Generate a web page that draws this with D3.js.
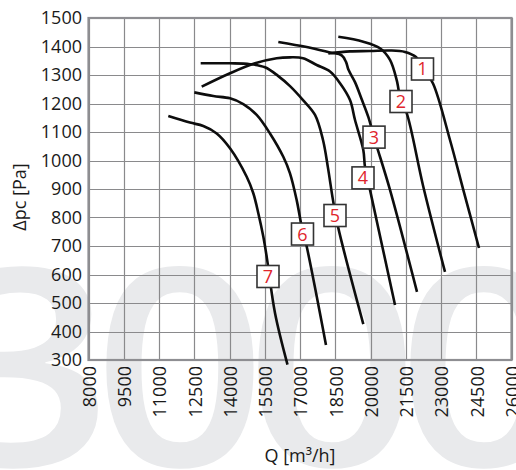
<!DOCTYPE html>
<html><head><meta charset="utf-8">
<script src="https://cdn.jsdelivr.net/npm/d3@7"></script>
<style>body{margin:0;background:#fff}svg{display:block}text{font-family:"Open Sans",sans-serif}</style>
</head><body><svg id="c" width="516" height="470"></svg>
<script>
const xTicks = [8000,9500,11000,12500,14000,15500,17000,18500,20000,21500,23000,24500,26000];
const yTicks = [300,400,500,600,700,800,900,1000,1100,1200,1300,1400,1500];
const watermarkText = ["3","0","0","0"];
const curveNames = ["1","2","3","4","5","6","7"];
const curve1 = [[18204,1376],[19128,1383],[19979,1384],[20830,1386],[21468,1381],[21936,1363],[22234,1325],[22660,1270],[23383,1072],[23949,897],[24617,693]];
const curve2 = [[18630,1434],[19694,1417],[20404,1394],[20830,1353],[21115,1282],[21298,1207],[21540,1166],[22247,908],[23170,609]];
const curve3 = [[16077,1416],[17285,1398],[18277,1379],[18774,1369],[18957,1346],[19064,1318],[19340,1275],[19638,1212],[19906,1153],[20149,1082],[20277,1047],[20830,897],[21979,539]];
const curve4 = [[12817,1259],[14021,1306],[15085,1341],[16008,1359],[16575,1362],[17128,1359],[17711,1335],[18277,1312],[18703,1271],[19128,1212],[19341,1142],[19694,1037],[19766,977],[19979,897],[21043,493]];
const curve5 = [[12774,1341],[14021,1341],[14872,1338],[15511,1327],[16064,1297],[16575,1261],[17128,1212],[17639,1160],[17979,1072],[18191,974],[18404,861],[18617,768],[19694,426]];
const curve6 = [[12502,1239],[13311,1226],[14021,1218],[14587,1198],[15157,1160],[15723,1095],[16289,1013],[16574,955],[16859,861],[17072,768],[17285,698],[18106,353]];
const curve7 = [[11396,1156],[12319,1133],[12885,1121],[13455,1095],[14021,1043],[14732,943],[15013,885],[15226,815],[15438,733],[15583,662],[15936,465],[16468,284]];
const labelQ = [22213,21298,20149,19681,18489,17106,15638];
const labelP = [1321,1207,1082,939,807,742,593];

const svg = d3.select("#c");
const x = d3.scaleLinear().domain([8000,26000]).range([88.5,511.5]);
const y = d3.scaleLinear().domain([300,1500]).range([360,18]);

// watermark
const wmX = [26,180,332,484];
svg.append("g").selectAll("text").data(watermarkText).join("text")
  .attr("transform",(d,i)=>`translate(${wmX[i]},466) scale(1.1,1)`)
  .attr("text-anchor","middle").attr("font-size",276).attr("font-weight",600)
  .attr("fill","#e9eaec").text(d=>d);

// grid
const g = svg.append("g");
g.selectAll("line.v").data(xTicks).join("line").attr("class","v")
  .attr("x1",d=>Math.round(x(d))+0.5).attr("x2",d=>Math.round(x(d))+0.5)
  .attr("y1",y(1500)).attr("y2",y(300)).attr("stroke","#8a8a8c").attr("stroke-width",1.2);
g.selectAll("line.h").data(yTicks).join("line").attr("class","h")
  .attr("y1",d=>Math.round(y(d))+0.5).attr("y2",d=>Math.round(y(d))+0.5)
  .attr("x1",x(8000)).attr("x2",x(26000)).attr("stroke","#8a8a8c").attr("stroke-width",1.2);
g.append("rect").attr("x",x(8000)).attr("y",y(1500)).attr("width",x(26000)-x(8000)).attr("height",y(300)-y(1500))
  .attr("fill","none").attr("stroke","#8e8e92").attr("stroke-width",2.2);

// tick labels
svg.append("g").selectAll("text").data(yTicks).join("text")
  .attr("x",82).attr("y",d=>y(d)).attr("dy","0.36em").attr("text-anchor","end")
  .attr("font-size",18).attr("fill","#1a1a1a").text(d=>d);
svg.append("g").selectAll("text").data(xTicks).join("text")
  .attr("transform",d=>`translate(${x(d)+1},366) rotate(-90)`)
  .attr("dy","0.36em").attr("text-anchor","end")
  .attr("font-size",18).attr("fill","#1a1a1a").text(d=>d);

// titles
svg.append("text").attr("transform","translate(26,197) rotate(-90)").attr("text-anchor","middle")
  .attr("font-size",18).attr("fill","#1a1a1a").text("Δpc [Pa]");
svg.append("text").attr("x",300).attr("y",462).attr("text-anchor","middle")
  .attr("font-size",18).attr("fill","#1a1a1a").text("Q [m³/h]");

// curves
const line = d3.line().x(d=>x(d[0])).y(d=>y(d[1])).curve(d3.curveCatmullRom.alpha(0.5));
const curves = [curve1,curve2,curve3,curve4,curve5,curve6,curve7];
svg.append("g").selectAll("path").data(curves).join("path")
  .attr("d",line).attr("fill","none").attr("stroke","#0d0d0d").attr("stroke-width",2.6)
  .attr("stroke-linecap","butt");

// labels
const lg = svg.append("g").selectAll("g").data(curveNames).join("g")
  .attr("transform",(d,i)=>`translate(${x(labelQ[i])},${y(labelP[i])})`);
lg.append("rect").attr("x",-11).attr("y",-11).attr("width",22).attr("height",22)
  .attr("fill","#fff").attr("stroke","#333").attr("stroke-width",1.6);
lg.append("text").attr("text-anchor","middle").attr("dy","0.36em").attr("font-size",18)
  .attr("fill","#e0262c").text(d=>d);
</script></body></html>
